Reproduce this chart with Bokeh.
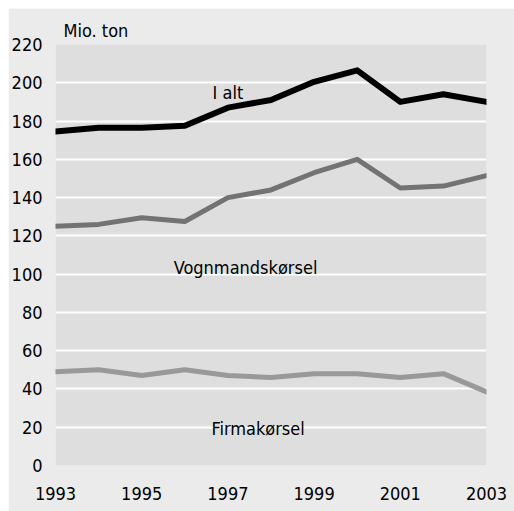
from bokeh.plotting import figure
from bokeh.models import Range1d, FixedTicker, Label
from bokeh.embed import file_html
from bokeh.resources import INLINE

years = [1993, 1994, 1995, 1996, 1997, 1998, 1999, 2000, 2001, 2002, 2003]
i_alt = [174.5, 176.5, 176.5, 177.5, 187, 191, 200.5, 206.5, 190, 194, 190]
vognmand = [125, 126, 129.5, 127.5, 140, 144, 153, 160, 145, 146, 151.5]
firma = [49, 50, 47, 50, 47, 46, 48, 48, 46, 48, 38.5]

x_ticks = [1993, 1995, 1997, 1999, 2001, 2003]
y_ticks = list(range(0, 221, 20))

series_names = ["I alt", "Vognmandskørsel", "Firmakørsel"]
label_x = [1997.0, 1997.41, 1997.70]
label_y = [191, 100, 15.5]
unit_label = "Mio. ton"

FONT = "DejaVu Sans Condensed"

p = figure(width=506, height=503, output_backend="svg", toolbar_location=None,
           x_range=Range1d(1993, 2003), y_range=Range1d(0, 220))
p.margin = (8, 0, 0, 8)
p.min_border_left = 46
p.min_border_right = 28
p.min_border_top = 36
p.min_border_bottom = 46
p.background_fill_color = "#dedede"
p.border_fill_color = "#ebebeb"
p.outline_line_color = None

p.title.text = unit_label
p.title.align = "left"
p.title.offset = 8
p.title.standoff = 7
p.title.text_font = FONT
p.title.text_font_size = "18px"
p.title.text_font_style = "normal"
p.title.text_color = "black"

p.xgrid.grid_line_color = None
p.ygrid.grid_line_color = "white"
p.ygrid.grid_line_width = 2

p.xaxis.ticker = FixedTicker(ticks=x_ticks)
p.yaxis.ticker = FixedTicker(ticks=y_ticks)
for ax in (p.xaxis, p.yaxis):
    ax.axis_line_color = None
    ax.major_tick_line_color = None
    ax.minor_tick_line_color = None
    ax.major_tick_out = 0
    ax.major_tick_in = 0
    ax.major_label_text_font = FONT
    ax.major_label_text_font_size = "18px"
    ax.major_label_text_color = "black"
p.xaxis.major_label_standoff = 21
p.yaxis.major_label_standoff = 13

p.line(years, firma, line_color="#999999", line_width=5, line_join="round", line_cap="round")
p.line(years, vognmand, line_color="#737373", line_width=5, line_join="round", line_cap="round")
p.line(years, i_alt, line_color="black", line_width=6, line_join="round", line_cap="round")

for name, lx, ly in zip(series_names, label_x, label_y):
    p.add_layout(Label(x=lx, y=ly, y_offset=7, text=name, text_align="center",
                       text_baseline="alphabetic",
                       text_font=FONT, text_font_size="18px", text_color="black"))

open("out.html", "w").write(file_html(p, INLINE))
